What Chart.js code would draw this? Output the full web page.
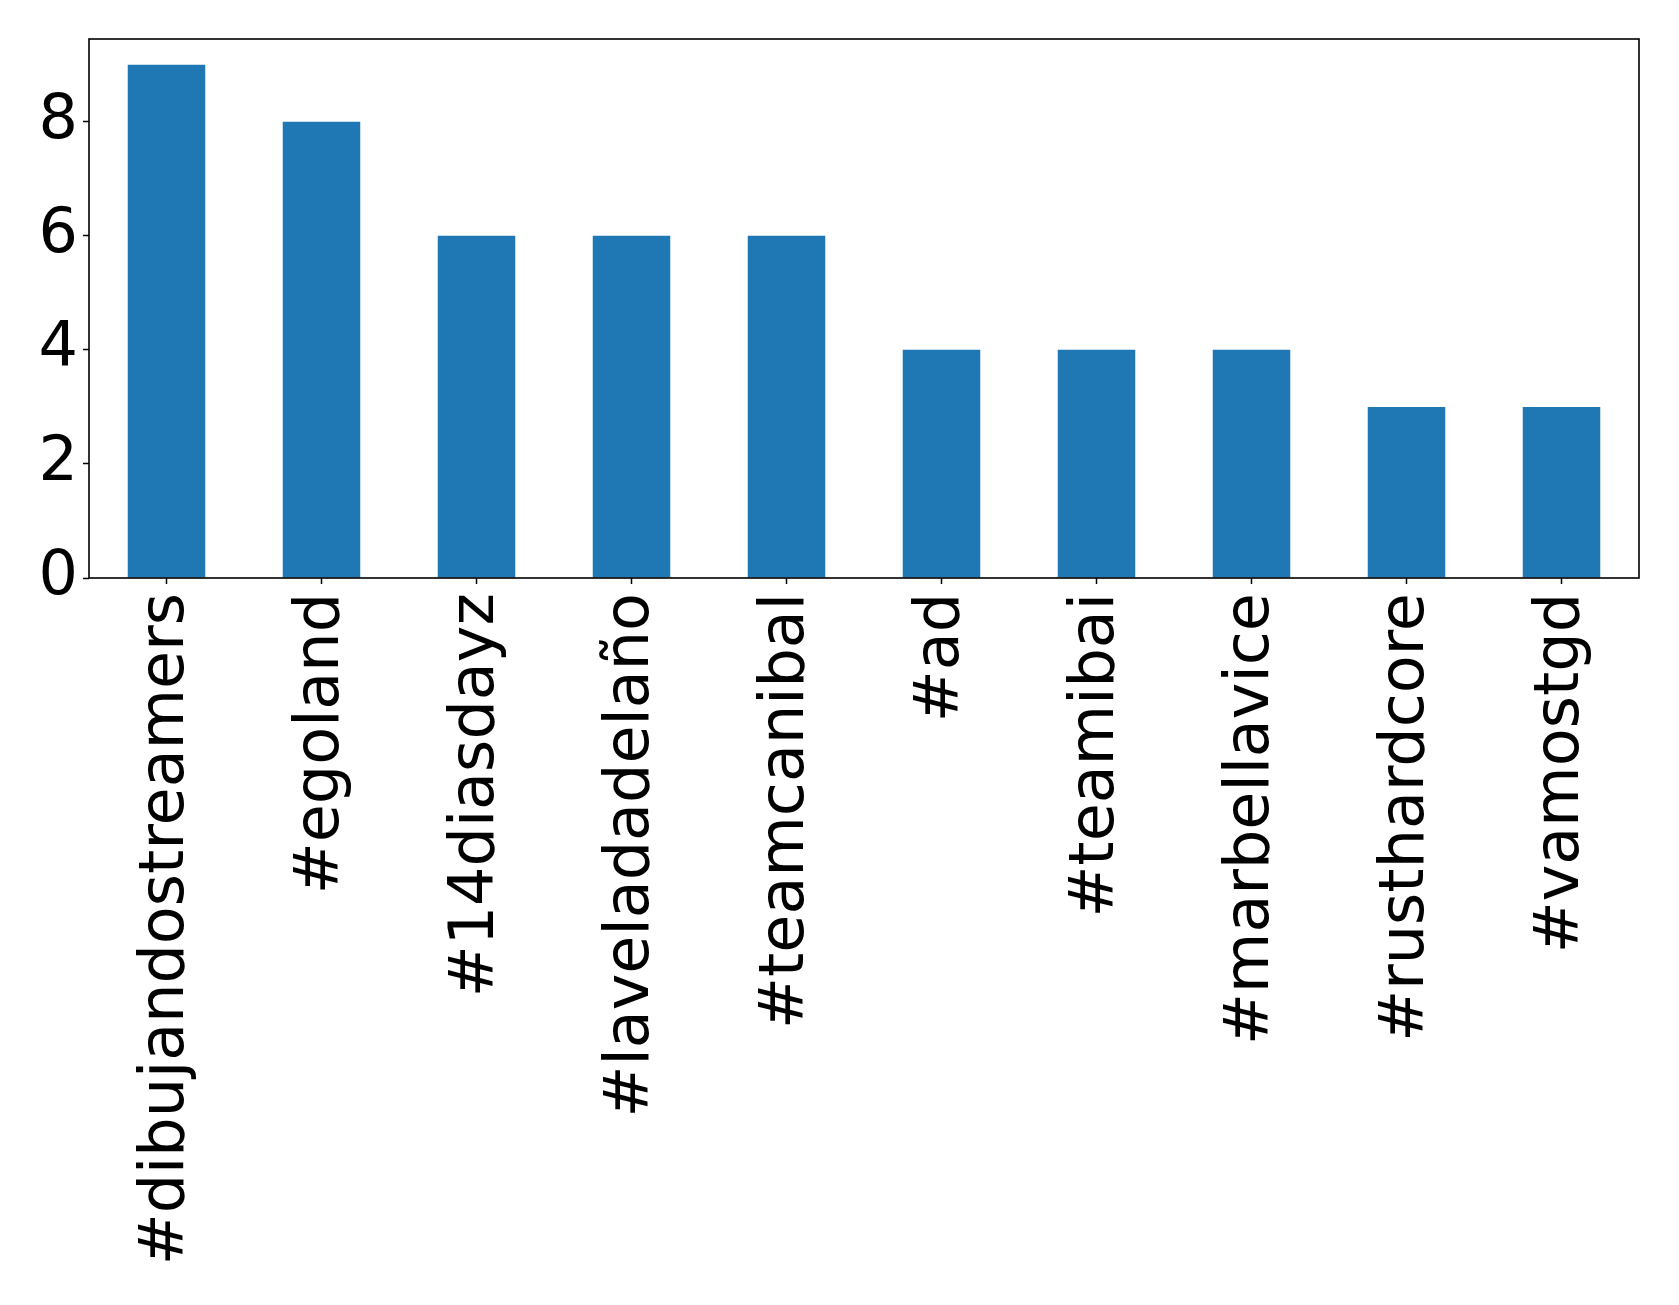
<!DOCTYPE html>
<html>
<head>
<meta charset="utf-8">
<script src="https://cdn.jsdelivr.net/npm/chart.js@4/dist/chart.umd.min.js"></script>
<style>
    body { margin: 0; background: #fff; }
    #wrap { width: 1679px; height: 1305px; position: relative; }
</style>
</head>
<body>
<div id="wrap"><canvas id="hashtagChart"></canvas></div>
<script>
// Data
const hashtags = ["#dibujandostreamers", "#egoland", "#14diasdayz", "#laveladadelaño", "#teamcanibal",
    "#ad", "#teamibai", "#marbellavice", "#rusthardcore", "#vamostgd"];
const counts = [9, 8, 6, 6, 6, 4, 4, 4, 3, 3];
const yTickStep = 2;
const yMax = 9.45;

// Kotak di sekeliling area plot (seperti spines matplotlib)
const frameBox = {
    id: "frameBox",
    afterDraw(chart) {
        const { ctx, chartArea: a } = chart;
        ctx.save();
        ctx.strokeStyle = "#000";
        ctx.lineWidth = 1.6;
        ctx.strokeRect(a.left, a.top, a.right - a.left, a.bottom - a.top);
        ctx.restore();
    },
};

const ctx = document.getElementById("hashtagChart").getContext("2d");
const hashtagChart = new Chart(ctx, {
    type: "bar",
    data: {
        labels: hashtags,
        datasets: [
            {
                data: counts,
                backgroundColor: "#1f77b4",
                barPercentage: 0.5,
                categoryPercentage: 1.0,
            },
        ],
    },
    options: {
        responsive: true,
        maintainAspectRatio: false,
        animation: false,
        layout: { padding: { top: 39, right: 40, left: 0, bottom: 0 } },
        plugins: { legend: { display: false }, tooltip: { enabled: false } },
        scales: {
            x: {
                grid: { display: true, drawOnChartArea: false, offset: false, color: "#000", tickLength: 6, tickWidth: 1.5 },
                border: { display: false },
                ticks: {
                    minRotation: 90,
                    maxRotation: 90,
                    autoSkip: false,
                    padding: 9,
                    color: "#000",
                    font: { family: "DejaVu Sans", size: 62 },
                },
                afterFit: (scale) => {
                    scale.height = 1305 - 578;
                    scale.paddingLeft = 0;
                    scale.paddingRight = 0;
                },
            },
            y: {
                min: 0,
                max: yMax,
                bounds: "data",
                grid: { display: true, drawOnChartArea: false, color: "#000", tickLength: 6, tickWidth: 1.5 },
                border: { display: false },
                ticks: {
                    stepSize: yTickStep,
                    includeBounds: false,
                    padding: 5,
                    color: "#000",
                    font: { family: "DejaVu Sans", size: 62 },
                },
                afterFit: (scale) => {
                    scale.width = 89;
                    scale.paddingTop = 0;
                    scale.paddingBottom = 0;
                },
            },
        },
    },
    plugins: [frameBox],
});
</script>
</body>
</html>
